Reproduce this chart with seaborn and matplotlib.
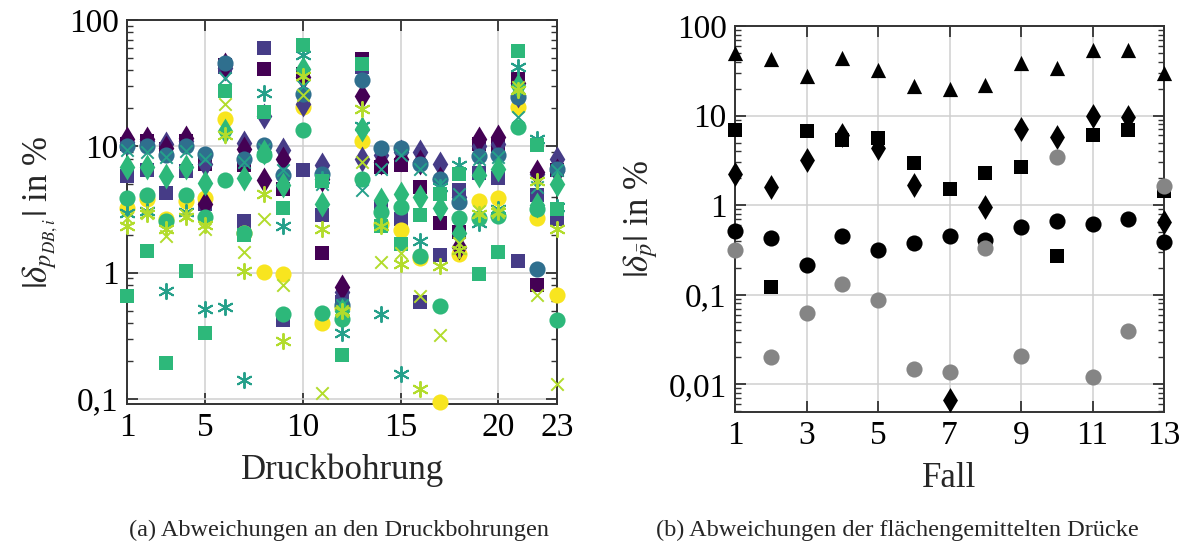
import numpy as np
import pandas as pd
import seaborn as sns
import matplotlib
matplotlib.use('Agg')
import matplotlib.pyplot as plt
from matplotlib.ticker import LogLocator, NullFormatter, FixedLocator, FixedFormatter

# ---- (a) deviations at the pressure taps, 13 series over 23 taps ----
bohrung = list(range(1, 24))

sq_dark = [10.5, 11, 9.5, 11, 7.2, 44, 7.1, 40.6, 4.6, 37.6, 1.44, 0.55, 49.4,
           6.9, 7.15, 4.77, 2.45, 2.1, 10.5, 10.2, 34.3, 0.79, 6.5]
di_dark = [11.5, 11.5, 9.7, 11.6, 3.5, 43.7, 9.6, 5.45, 8.0, 35.4, 5.5, 0.77, 25,
           7.5, 8.0, 7.5, 5.5, 1.6, 11.5, 11.9, 32, 6.27, 6.35]
sq_indigo = [5.8, 6.45, 4.3, 6.35, 3.5, 42.5, 2.55, 60, 0.42, 6.45, 2.85, 0.58, 42.5,
             3.3, 2.68, 0.58, 1.37, 4.5, 6.2, 5.6, 1.23, 4.1, 2.65]
di_indigo = [10.8, 11, 10.5, 11, 7.3, 42, 10.6, 17.5, 9.3, 21.8, 7.1, 0.70, 7.9,
             8.5, 9.0, 9.0, 7.2, 4.0, 10.0, 10.5, 25.4, 6.0, 7.9]
ci_blue = [10, 10, 8.5, 10, 8.75, 45.9, 7.9, 10.2, 5.9, 25.8, 6.0, 0.55, 33.3,
           9.7, 9.7, 7.3, 5.55, 3.6, 8.4, 8.6, 24.6, 1.07, 6.6]
x_teal = [9.3, 9, 8.2, 9.1, 8.0, 34.7, 7.5, 9.5, 6.5, 30, 5.0, 0.55, 4.5,
          6.6, 8.5, 6.65, 5.0, 4.2, 8.0, 8.2, 17.1, 4.77, 6.5]
ast_teal = [2.95, 3.1, 0.72, 3.0, 0.51, 0.53, 0.142, 26.6, 2.34, 52.5, 5.5, 0.33, 14.6,
            0.47, 0.156, 1.78, 4.77, 7.1, 2.45, 3.2, 42.5, 11.5, 3.3]
sq_green = [0.65, 1.48, 0.194, 1.02, 0.33, 27.2, 2.0, 18.7, 3.27, 63.8, 5.3, 0.224, 45,
            2.34, 1.67, 2.84, 4.2, 6.0, 0.98, 1.46, 56.9, 10.3, 3.2]
di_green = [6.9, 6.9, 5.8, 6.9, 5.1, 13.1, 5.6, 9.0, 4.9, 41.3, 3.5, 0.5, 13.8,
            3.74, 4.17, 3.97, 3.25, 2.05, 5.9, 6.66, 30, 3.4, 5.06]
ci_green = [3.9, 4.1, 2.55, 4.1, 2.75, 5.45, 2.04, 8.5, 0.47, 13.4, 0.48, 0.43, 5.5,
            3.0, 3.3, 1.35, 0.54, 2.7, 2.7, 2.8, 14.2, 3.2, 0.42]
x_lime = [2.7, 2.95, 1.95, 2.85, 2.23, 21.8, 1.46, 2.65, 0.80, 25.3, 0.112, 0.5, 7.5,
          1.21, 1.42, 0.65, 0.32, 1.7, 3.1, 3.0, 29.5, 0.66, 0.13]
ast_lime = [2.35, 2.9, 2.23, 2.75, 2.4, 12.2, 1.02, 4.2, 0.286, 36, 2.2, 0.5, 19.8,
            2.34, 1.16, 0.12, 1.13, 1.5, 2.9, 3.0, 28, 5.3, 2.23]
ci_yellow = [3.25, 3.8, 2.68, 3.7, 3.9, 16.6, 2.07, 1.01, 0.97, 20.5, 0.40, 0.52, 11,
             2.44, 2.16, 1.3, 0.095, 1.4, 3.7, 3.86, 20.5, 2.7, 0.67]

# ---- (b) area averaged pressures, 5 series over 13 cases ----
fall = list(range(1, 14))
tri_black = [49.6, 42.6, 27.7, 43.6, 32.3, 21.4, 19.8, 21.7, 39, 34.3, 54, 54, 30.2]
di_black = [2.21, 1.58, 3.2, 6.1, 4.3, 1.68, 0.0067, 0.96, 7.0, 5.8, 9.9, 9.6, 0.64]
sq_black = [6.9, 0.123, 6.8, 5.4, 5.55, 2.93, 1.53, 2.27, 2.65, 0.271, 6.08, 6.9, 1.42]
ci_black = [0.52, 0.434, 0.215, 0.45, 0.316, 0.382, 0.457, 0.41, 0.566, 0.666, 0.61, 0.70, 0.39]
ci_gray = [0.316, 0.0199, 0.062, 0.132, 0.0874, 0.0148, 0.0138, 0.33, 0.0207, 3.42,
           0.0119, 0.0394, 1.64]

c_dark = '#440154'
c_indigo = '#463c87'
c_blue = '#2f6f8e'
c_teal = '#25a08a'
c_green = '#2db87a'
c_lime = '#b2dc2c'
c_yellow = '#f8e51f'

ASTER = (6, 2, 0)

left_series = [
    (sq_dark, 's', c_dark, 95),
    (sq_indigo, 's', c_indigo, 95),
    (ci_yellow, 'o', c_yellow, 135),
    (di_indigo, 'd', c_indigo, 175),
    (di_dark, 'd', c_dark, 175),
    (ci_blue, 'o', c_blue, 135),
    (x_teal, 'x', c_teal, 80),
    (ast_teal, ASTER, c_teal, 120),
    (sq_green, 's', c_green, 95),
    (di_green, 'd', c_green, 175),
    (ci_green, 'o', c_green, 135),
    (x_lime, 'x', c_lime, 80),
    (ast_lime, ASTER, c_lime, 120),
]

right_series = [
    (tri_black, '^', 'black', 120),
    (di_black, 'd', 'black', 160),
    (sq_black, 's', 'black', 115),
    (ci_black, 'o', 'black', 135),
    (ci_gray, 'o', '#858585', 135),
]

sns.set_style('ticks')
plt.rcParams['font.family'] = ['Liberation Serif', 'DejaVu Serif']
plt.rcParams['mathtext.fontset'] = 'stix'

fig = plt.figure(figsize=(11.89, 5.47), dpi=100)
ax1 = fig.add_axes([0.1068, 0.2614, 0.3617, 0.702])
ax2 = fig.add_axes([0.6182, 0.2468, 0.3608, 0.7057])


def draw(ax, xs, series):
    for vals, marker, color, size in series:
        df = pd.DataFrame({'x': xs, 'y': vals})
        filled = marker in ('s', 'o', 'd', '^')
        lw = 0 if filled else 1.4
        sns.scatterplot(data=df, x='x', y='y', marker=marker, color=color, s=size,
                        linewidth=lw, ax=ax, clip_on=False, zorder=3)


def style(ax, xticks, ylim, yticks, ylabels, xlabel, ylabel):
    ax.set_yscale('log')
    ax.set_xlim(xticks[0], xticks[-1])
    ax.set_ylim(*ylim)
    ax.xaxis.set_major_locator(FixedLocator(xticks))
    ax.set_xticklabels([str(t) for t in xticks])
    ax.yaxis.set_major_locator(FixedLocator(yticks))
    ax.yaxis.set_major_formatter(FixedFormatter(ylabels))
    ax.yaxis.set_minor_locator(LogLocator(base=10, subs=np.arange(2, 10)))
    ax.yaxis.set_minor_formatter(NullFormatter())
    ax.grid(True, which='major', color='#cfcfcf', linewidth=1.1, zorder=0)
    ax.set_axisbelow(True)
    ax.tick_params(which='both', direction='in', top=True, right=True,
                   labelsize=24, colors='#333333', labelcolor='black')
    ax.tick_params(which='major', length=8, width=1.3, pad=6)
    ax.tick_params(which='minor', length=4.5, width=1.0)
    for sp in ax.spines.values():
        sp.set_color('#333333')
        sp.set_linewidth(1.4)
    ax.set_xlabel(xlabel, fontsize=25, labelpad=8)
    ax.set_ylabel(ylabel, fontsize=25, labelpad=6)


draw(ax1, bohrung, left_series)
style(ax1, [1, 5, 10, 15, 20, 23], (0.091, 100), [0.1, 1, 10, 100],
      ['0,1', '1', '10', '100'], 'Druckbohrung', r'$|\delta_{p_{DB,i}}|$ in %')

draw(ax2, fall, right_series)
style(ax2, [1, 3, 5, 7, 9, 11, 13], (0.0049, 100), [0.01, 0.1, 1, 10, 100],
      ['0,01', '0,1', '1', '10', '100'], 'Fall', r'$|\delta_{\bar{p}}|$ in %')

fig.text(0.285, 0.02, '(a) Abweichungen an den Druckbohrungen', ha='center',
         va='baseline', fontsize=17.5)
fig.text(0.755, 0.02, '(b) Abweichungen der flächengemittelten Drücke', ha='center',
         va='baseline', fontsize=17.5)

fig.savefig('out.png', dpi=100)
